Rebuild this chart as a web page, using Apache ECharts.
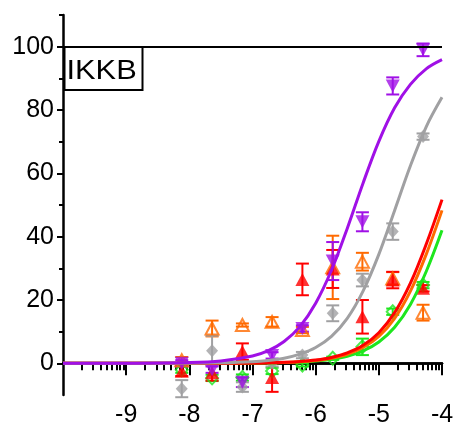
<!DOCTYPE html>
<html>
<head>
<meta charset="utf-8">
<script src="https://cdn.jsdelivr.net/npm/echarts@6/dist/echarts.min.js"></script>
<style>
  html, body { margin: 0; padding: 0; background: #ffffff; }
  #chart { width: 455px; height: 427px; }
</style>
</head>
<body>
<div id="chart"></div>
<script>
// log10 of molar concentration (3-fold dilution series from 50 µM)
const logConc = [-8.12, -7.64, -7.16, -6.69, -6.21, -5.73, -5.26, -4.78, -4.30];

// % inhibition, mean and SEM for each compound
const purpleMean = [0.0, -2.0, -6.0, 2.5, 11.0, 32.3, 44.7, 87.6, 99.0];
const purpleErr  = [1.0, 1.0, 1.5, 1.0, 1.0, 6.0, 3.0, 2.7, 2.0];
const grayMean   = [-8.0, 4.0, -7.5, 0.0, 2.6, 15.8, 26.3, 41.6, 71.6];
const grayErr    = [2.7, 4.7, 1.5, 1.0, 1.0, 2.5, 2.0, 2.6, 1.0];
const redMean    = [-2.5, -3.0, 3.7, -4.5, 26.5, 29.8, 14.7, 26.3, 23.7];
const redErr     = [1.5, 2.5, 2.6, 4.5, 5.0, 6.0, 5.3, 2.6, 1.0];
const orangeMean = [1.0, 11.0, 12.1, 13.1, 10.5, 30.3, 32.1, 26.8, 16.0];
const orangeErr  = [1.0, 2.5, 0.5, 1.5, 1.0, 10.0, 2.8, 2.0, 2.5];
const greenMean  = [-2.0, -4.6, -4.5, -2.4, -0.5, 1.6, 5.2, 16.3, 24.7];
const greenErr   = [1.0, 1.0, 1.0, 1.0, 0.5, 0.5, 2.6, 1.0, 1.0];

// fitted dose-response curves, sampled along the concentration axis
const curveX     = [-10, -9, -8, -7.5, -7, -6.75, -6.5, -6.25, -6, -5.75, -5.5, -5.25, -5, -4.75, -4.5, -4.25, -4];
const purpleFit  = [0, 0.02, 0.23, 0.74, 2.3, 4.0, 6.9, 11.6, 19.0, 29.4, 42.6, 56.9, 70.1, 80.7, 88.1, 93.0, 95.9];
const grayFit    = [0, 0, 0.05, 0.17, 0.52, 0.93, 1.6, 2.9, 5.0, 8.5, 14.2, 22.8, 34.4, 48.3, 62.4, 74.7, 84.0];
const redFit     = [0, 0, 0.01, 0.03, 0.11, 0.19, 0.34, 0.60, 1.06, 1.87, 3.28, 5.68, 9.68, 16.0, 25.3, 37.6, 51.7];
const orangeFit  = [0, 0, 0.01, 0.03, 0.09, 0.17, 0.29, 0.52, 0.92, 1.63, 2.87, 4.99, 8.5, 14.2, 22.8, 34.4, 48.3];
const greenFit   = [0, 0, 0.01, 0.02, 0.07, 0.13, 0.23, 0.41, 0.72, 1.27, 2.24, 3.92, 6.76, 11.4, 18.6, 29.0, 42.0];

// axis tick values
const xMajorTicks = [-9, -8, -7, -6, -5, -4];
const yLabelTicks = [0, 20, 40, 60, 80, 100];
const yMinorTicks = [10, 30, 50, 70, 90, 110];
const topLine = 100;
const panelTitle = 'IKKB';

// log-spaced minor ticks inside each decade
const xMinorTicks = [];
for (let d = -10; d < -4; d++) {
  for (let k = 2; k <= 9; k++) xMinorTicks.push(d + Math.log10(k));
}

const COLORS = {
  purple: '#A010E6',
  gray: '#A0A0A2',
  red: '#FF0000',
  orange: '#FF6A00',
  green: '#1EE61E'
};
const FONT = 'Liberation Sans, Arial, sans-serif';

function zip(xs, ys) { return xs.map((x, i) => [x, ys[i]]); }
function zip3(xs, ys, es) { return xs.map((x, i) => [x, ys[i], es[i]]); }

function errorBars(name, color, mean, err) {
  return {
    type: 'custom',
    name: name + ' sem',
    xAxisIndex: 0, yAxisIndex: 0,
    data: zip3(logConc, mean, err),
    encode: { x: 0, y: 1 },
    silent: true,
    renderItem: function (params, api) {
      const x = api.value(0), m = api.value(1), e = api.value(2);
      const top = api.coord([x, m + e]);
      const bot = api.coord([x, m - e]);
      const hw = 6.5;
      const st = { stroke: color, lineWidth: 2 };
      return {
        type: 'group',
        children: [
          { type: 'line', shape: { x1: top[0], y1: top[1], x2: bot[0], y2: bot[1] }, style: st },
          { type: 'line', shape: { x1: top[0] - hw, y1: top[1], x2: top[0] + hw, y2: top[1] }, style: st },
          { type: 'line', shape: { x1: bot[0] - hw, y1: bot[1], x2: bot[0] + hw, y2: bot[1] }, style: st }
        ]
      };
    }
  };
}

function markers(name, color, mean, symbol, size, rotate, open) {
  return {
    type: 'scatter',
    name: name,
    xAxisIndex: 0, yAxisIndex: 0,
    data: zip(logConc, mean),
    symbol: symbol,
    symbolSize: size,
    symbolRotate: rotate,
    itemStyle: open
      ? { color: 'rgba(255,255,255,0)', borderColor: color, borderWidth: 2 }
      : { color: color, borderWidth: 0 },
    emphasis: { disabled: true },
    silent: true
  };
}

function curve(name, color, ys) {
  return {
    type: 'line',
    name: name + ' fit',
    xAxisIndex: 0, yAxisIndex: 0,
    data: zip(curveX, ys),
    showSymbol: false,
    smooth: 0.35,
    lineStyle: { color: color, width: 3 },
    silent: true
  };
}

const chart = echarts.init(document.getElementById('chart'), null, { renderer: 'canvas' });

const option = {
  animation: false,
  backgroundColor: '#ffffff',
  grid: { left: 63, right: 13, top: 15, bottom: 32, outerBoundsMode: 'none', containLabel: false },
  xAxis: [
    {
      type: 'value', min: -10, max: -4, position: 'bottom',
      axisLine: { show: true, onZero: true, onZeroAxisIndex: 0, lineStyle: { color: '#000', width: 2.5 } },
      axisTick: { show: true, customValues: xMajorTicks, length: 12, lineStyle: { color: '#000', width: 2 } },
      axisLabel: {
        show: true, customValues: xMajorTicks, margin: 8,
        color: '#000', fontSize: 25, fontFamily: FONT,
        formatter: v => String(v)
      },
      splitLine: { show: false }
    },
    {
      type: 'value', min: -10, max: -4, position: 'bottom',
      axisLine: { show: true, onZero: true, onZeroAxisIndex: 0, lineStyle: { color: '#000', width: 2.5 } },
      axisTick: { show: true, customValues: xMinorTicks, length: 7, lineStyle: { color: '#000', width: 2 } },
      axisLabel: { show: false },
      splitLine: { show: false }
    }
  ],
  yAxis: [
    {
      type: 'value', min: -10, max: 110, position: 'left',
      axisLine: { show: true, onZero: false, lineStyle: { color: '#000', width: 2.5 } },
      axisTick: { show: true, customValues: yLabelTicks, length: 6, lineStyle: { color: '#000', width: 2 } },
      axisLabel: {
        show: true, customValues: yLabelTicks, margin: 9,
        color: '#000', fontSize: 25, fontFamily: FONT
      },
      splitLine: { show: false }
    },
    {
      type: 'value', min: -10, max: 110, position: 'left',
      axisLine: { show: false, onZero: false },
      axisTick: { show: true, customValues: yMinorTicks, length: 4, lineStyle: { color: '#000', width: 2 } },
      axisLabel: { show: false },
      splitLine: { show: false }
    }
  ],
  series: [
    Object.assign(curve('green', COLORS.green, greenFit), {
      markLine: {
        silent: true, symbol: ['none', 'none'], label: { show: false },
        lineStyle: { color: '#000', width: 2, type: 'solid' },
        data: [{ yAxis: topLine }]
      }
    }),
    curve('orange', COLORS.orange, orangeFit),
    curve('red', COLORS.red, redFit),
    curve('gray', COLORS.gray, grayFit),
    curve('purple', COLORS.purple, purpleFit),

    errorBars('green', COLORS.green, greenMean, greenErr),
    markers('green', COLORS.green, greenMean, 'diamond', [12, 13], 0, true),
    errorBars('orange', COLORS.orange, orangeMean, orangeErr),
    markers('orange', COLORS.orange, orangeMean, 'triangle', [13, 12], 0, true),
    errorBars('red', COLORS.red, redMean, redErr),
    markers('red', COLORS.red, redMean, 'triangle', [14, 13], 0, false),
    errorBars('gray', COLORS.gray, grayMean, grayErr),
    markers('gray', COLORS.gray, grayMean, 'diamond', [12, 13], 0, false),
    errorBars('purple', COLORS.purple, purpleMean, purpleErr),
    markers('purple', COLORS.purple, purpleMean, 'triangle', [14, 13], 180, false)
  ],
  graphic: [
    {
      type: 'rect', z: 100,
      shape: { x: 64.5, y: 47, width: 78, height: 43 },
      style: { fill: '#ffffff', stroke: '#000', lineWidth: 2 }
    },
    {
      type: 'text', z: 101, x: 66.5, y: 71, scaleX: 1.1,
      style: { text: panelTitle, fontSize: 28, fontFamily: FONT, fill: '#000', verticalAlign: 'middle', align: 'left' }
    }
  ]
};

chart.setOption(option);
</script>
</body>
</html>
